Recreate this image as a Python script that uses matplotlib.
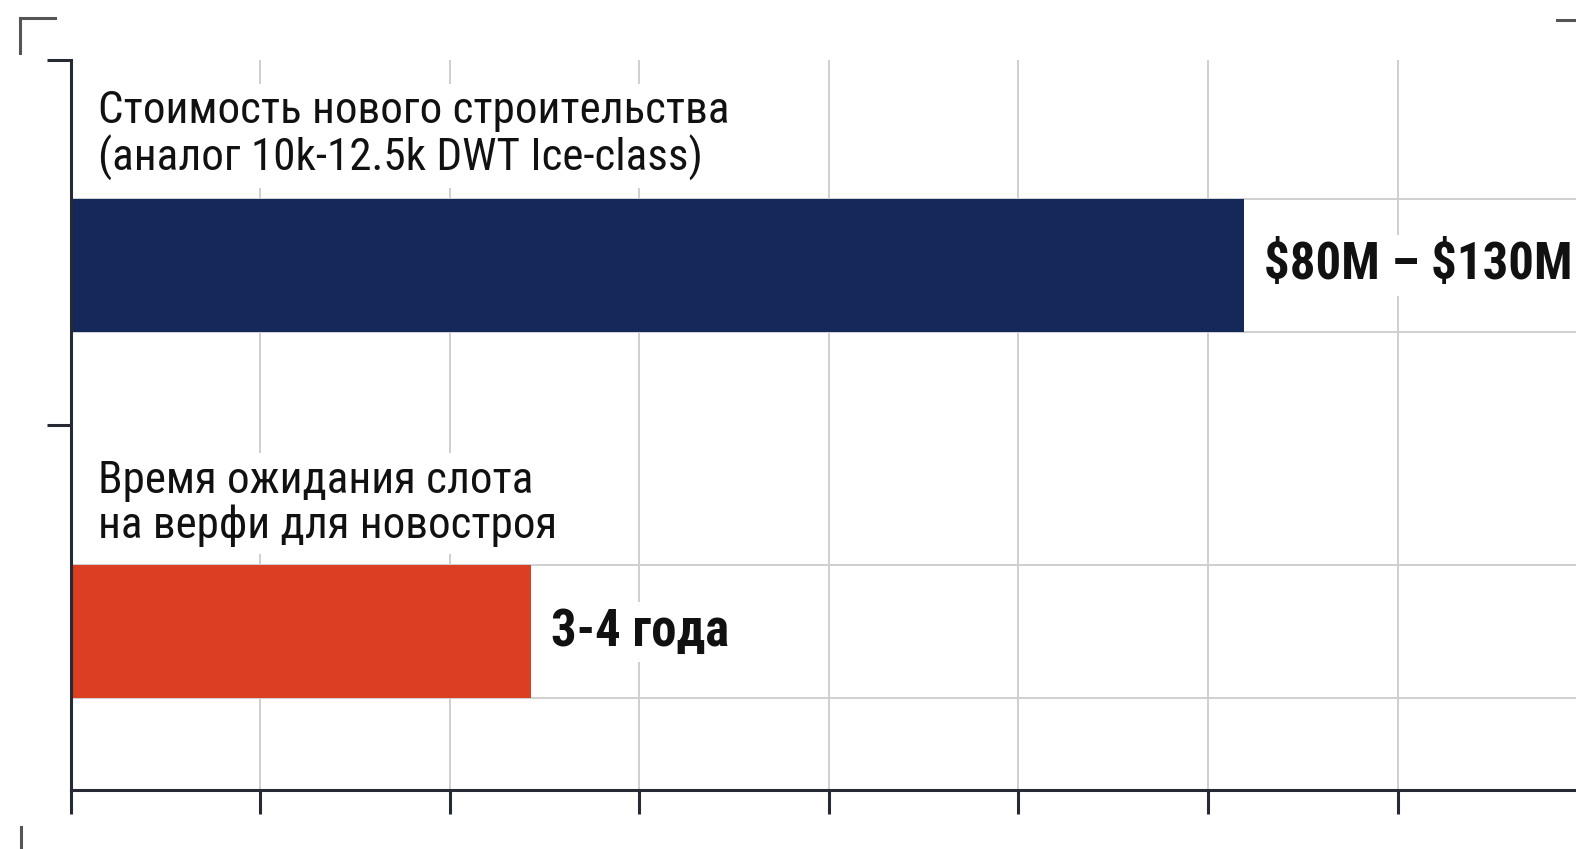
import matplotlib
matplotlib.use("Agg")
import matplotlib.pyplot as plt
from matplotlib.lines import Line2D
from matplotlib import font_manager

# data (bar lengths, one grid step = 1 unit)
labels = ["Стоимость нового строительства\n(аналог 10k-12.5k DWT Ice-class)",
          "Время ожидания слота\nна верфи для новостроя"]
values = [6.19, 2.43]
value_text = [r"\$80M – \$130M", "3-4 года"]
positions = [1.437, 0.434]
colors = ["#14295a", "#db3e21"]

names = {f.name for f in font_manager.fontManager.ttflist}
FONT = [n for n in ("Roboto Condensed", "Liberation Sans Narrow", "Roboto") if n in names] + ["DejaVu Sans"]
INK = "#262b33"
GRID = "#cfcfd2"
H = 0.364

fig = plt.figure(figsize=(15.76, 8.49), dpi=100)
ax = fig.add_axes([70.5 / 1576, 1 - 790 / 849, 1 - 70.5 / 1576, (790 - 60) / 849])
ax.set_xlim(0, (1576 - 70.5) / 189.6)
ax.set_ylim(0, 2)

ax.set_xticks(range(0, 8))
ax.set_yticks([1, 2])
ax.grid(axis="x", color=GRID, lw=1.4, zorder=0)
ax.set_axisbelow(True)
for p in positions:                       # faint rules along the bar edges
    for e in (p - H / 2, p + H / 2):
        ax.axhline(e, color=GRID, lw=1.4, zorder=0)

ax.barh(positions, values, height=H, color=colors, zorder=2)

for p, v, lab, vt in zip(positions, values, labels, value_text):
    ax.text(0.143, p + H / 2 + 0.05, lab, ha="left", va="bottom", fontsize=32.5,
            family=FONT, color="#111111", linespacing=1.08, zorder=3,
            bbox=dict(boxstyle="square,pad=0.15", fc="white", ec="none"))
    ax.text(v + 0.105, p, vt, ha="left", va="center", fontsize=36.5, fontweight="bold",
            family=FONT, color="#111111", zorder=3,
            bbox=dict(boxstyle="square,pad=0.1", fc="white", ec="none"))

for s in ("top", "right"):
    ax.spines[s].set_visible(False)
for s in ("left", "bottom"):
    ax.spines[s].set_color(INK)
    ax.spines[s].set_linewidth(2.2)
ax.tick_params(axis="both", length=17, width=2.2, color=INK,
               labelbottom=False, labelleft=False)

# frame corner marks
for xs, ys in [((20, 20), (53, 18)), ((20, 55), (18, 18)), ((1557, 1576), (20, 20)),
               ((21, 21), (827, 849))]:
    fig.add_artist(Line2D([x / 1576 for x in xs], [1 - y / 849 for y in ys],
                          color="#555555", lw=2.2, transform=fig.transFigure))

fig.savefig("out.png", dpi=100)
